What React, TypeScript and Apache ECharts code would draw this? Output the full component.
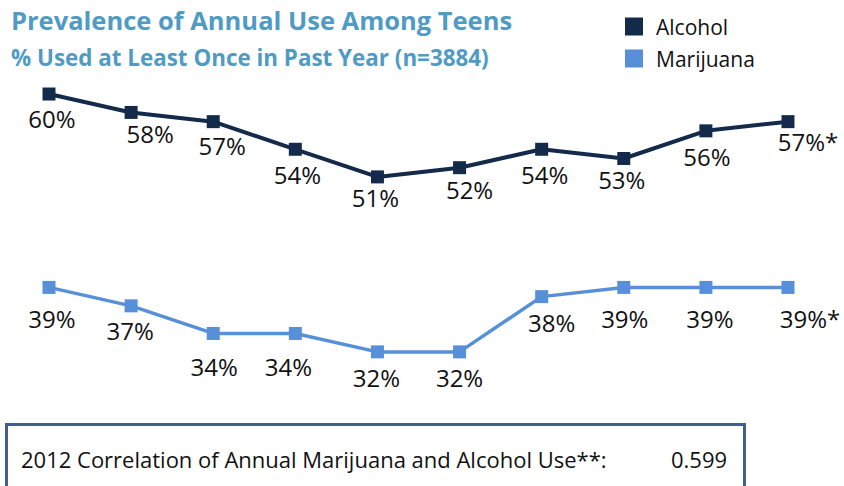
import React, { useEffect, useRef } from "react";
import * as echarts from "echarts";

const years = ["2003", "2004", "2005", "2006", "2007", "2008", "2009", "2010", "2011", "2012"];
const alcohol = [60, 58, 57, 54, 51, 52, 54, 53, 56, 57];
const marijuana = [39, 37, 34, 34, 32, 32, 38, 39, 39, 39];
const alcoholLabels = ["60%", "58%", "57%", "54%", "51%", "52%", "54%", "53%", "56%", "57%*"];
const marijuanaLabels = ["39%", "37%", "34%", "34%", "32%", "32%", "38%", "39%", "39%", "39%*"];
const correlationText = "2012 Correlation of Annual Marijuana and Alcohol Use**:";
const correlationValue = "0.599";

// label placement offsets (style only)
const alcoholLabelOffsets = [[3, 24], [19, 21], [9, 24], [2, 25], [-2, 21], [10, 22], [3, 25], [-2, 21], [1, 26], [20, 20]];
const marijuanaLabelOffsets = [[3, 31], [-1, 25], [1, 33], [-7, 33], [-1, 26], [0, 26], [10, 26], [1, 31], [4, 31], [22, 31]];

const FONT = "'Open Sans', 'Noto Sans', sans-serif";
const NAVY = "#142a4b";
const BLUE = "#5790d8";
const TITLE = "#4f9bc4";

export default function App() {
  const ref = useRef<HTMLDivElement>(null);
  useEffect(() => {
    document.body.style.margin = "0";
    if (!ref.current) return;
    const chart = echarts.init(ref.current, null, { renderer: "svg" });
    const mk = (vals: number[], labels: string[], offs: number[][]) =>
      vals.map((v, i) => ({
        value: v,
        label: { formatter: labels[i], offset: offs[i] },
      }));
    chart.setOption({
      animation: false,
      backgroundColor: "#ffffff",
      title: [
        {
          text: "Prevalence of Annual Use Among Teens",
          left: 6,
          top: 2,
          textStyle: { color: TITLE, fontFamily: FONT, fontWeight: "bold", fontSize: 25.5 },
        },
        {
          text: "% Used at Least Once in Past Year (n=3884)",
          left: 6,
          top: 41,
          textStyle: { color: TITLE, fontFamily: FONT, fontWeight: "bold", fontSize: 22.4 },
        },
      ],
      legend: {
        orient: "vertical",
        left: 625,
        top: 16,
        padding: 0,
        icon: "rect",
        itemWidth: 18,
        itemHeight: 18,
        itemGap: 11,
        textStyle: { color: "#111111", fontFamily: FONT, fontSize: 21, padding: [0, 0, 0, 8] },
        data: ["Alcohol", "Marijuana"],
      },
      grid: { left: 49, right: 56, top: 75.6, bottom: 115.7 },
      xAxis: {
        type: "category",
        data: years,
        boundaryGap: false,
        show: false,
      },
      yAxis: { type: "value", min: 30, max: 62, show: false },
      graphic: [
        {
          type: "rect",
          shape: { x: 6.5, y: 424.5, width: 738, height: 90 },
          style: { fill: "#ffffff", stroke: "#3f5f8e", lineWidth: 3 },
          z: 10,
        },
        {
          type: "text",
          x: 21,
          y: 459,
          style: {
            text: correlationText,
            fontFamily: FONT,
            fontSize: 22,
            fill: "#111111",
            verticalAlign: "middle",
          },
          z: 11,
        },
        {
          type: "text",
          x: 671,
          y: 459,
          style: {
            text: correlationValue,
            fontFamily: FONT,
            fontSize: 22,
            fill: "#111111",
            verticalAlign: "middle",
          },
          z: 11,
        },
      ],
      series: [
        {
          name: "Alcohol",
          type: "line",
          data: mk(alcohol, alcoholLabels, alcoholLabelOffsets),
          symbol: "rect",
          symbolSize: 13,
          itemStyle: { color: NAVY },
          lineStyle: { color: NAVY, width: 4 },
          label: {
            show: true,
            position: "inside",
            fontFamily: FONT,
            fontSize: 24,
            color: "#111111",
          },
        },
        {
          name: "Marijuana",
          type: "line",
          data: mk(marijuana, marijuanaLabels, marijuanaLabelOffsets),
          symbol: "rect",
          symbolSize: 13,
          itemStyle: { color: BLUE },
          lineStyle: { color: BLUE, width: 3.5 },
          label: {
            show: true,
            position: "inside",
            fontFamily: FONT,
            fontSize: 24,
            color: "#111111",
          },
        },
      ],
    });
    return () => chart.dispose();
  }, []);
  return <div ref={ref} style={{ width: 844, height: 486 }} />;
}
